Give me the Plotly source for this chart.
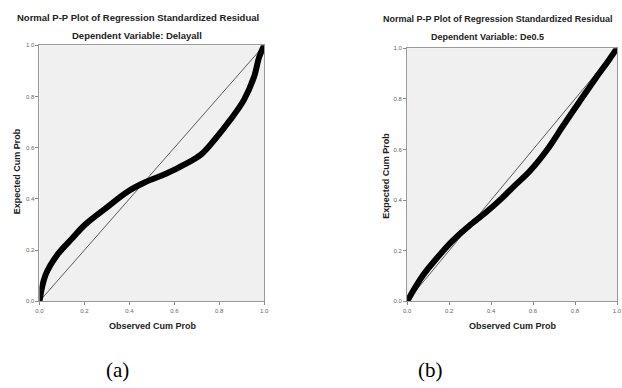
import plotly.graph_objects as go

# Panel (a): Dependent Variable: Delayall
obs_a = [0.0, 0.027, 0.078, 0.145, 0.20, 0.29, 0.395, 0.47, 0.56, 0.646, 0.72, 0.78, 0.85, 0.91, 0.955, 0.978, 1.0]
exp_a = [0.0, 0.103, 0.18, 0.245, 0.297, 0.36, 0.43, 0.465, 0.497, 0.535, 0.574, 0.632, 0.71, 0.787, 0.877, 0.955, 1.0]

# Panel (b): Dependent Variable: De0.5
obs_b = [0.0, 0.075, 0.138, 0.216, 0.294, 0.372, 0.451, 0.51, 0.585, 0.668, 0.74, 0.818, 0.897, 0.96, 1.0]
exp_b = [0.0, 0.102, 0.167, 0.239, 0.297, 0.349, 0.407, 0.455, 0.515, 0.600, 0.69, 0.785, 0.88, 0.952, 1.0]

diag = [0.0, 1.0]
tick_vals = [0.0, 0.2, 0.4, 0.6, 0.8, 1.0]
tick_text = ["0.0", "0.2", "0.4", "0.6", "0.8", "1.0"]

W, H = 622, 388
def px(x): return x / W
def py(y): return (H - y) / H

fig = go.Figure()

for obs, exp, xa, ya in [(obs_a, exp_a, "x", "y"), (obs_b, exp_b, "x2", "y2")]:
    fig.add_trace(go.Scatter(x=diag, y=diag, mode="lines", xaxis=xa, yaxis=ya,
                             line=dict(color="#5a5a5a", width=1), showlegend=False, hoverinfo="skip"))
    fig.add_trace(go.Scatter(x=obs, y=exp, mode="lines", xaxis=xa, yaxis=ya,
                             line=dict(color="black", width=6, shape="spline", smoothing=1.0),
                             showlegend=False))

axis_common = dict(range=[0, 1], tickvals=tick_vals, ticktext=tick_text, ticks="outside",
                   ticklen=3, tickcolor="#888", tickfont=dict(size=6, color="#666", family="Liberation Sans, Arial"),
                   showgrid=False, zeroline=False, showline=True, linecolor="#999", linewidth=1,
                   mirror=True, fixedrange=True)

fig.update_layout(
    width=W, height=H, margin=dict(l=0, r=0, t=0, b=0),
    paper_bgcolor="white", plot_bgcolor="#f0f0f0",
    xaxis=dict(domain=[px(36), px(264)], anchor="y", **axis_common),
    yaxis=dict(domain=[py(303), py(43)], anchor="x", **axis_common),
    xaxis2=dict(domain=[px(409), 1.0], anchor="y2", **axis_common),
    yaxis2=dict(domain=[py(303), py(46)], anchor="x2", **axis_common),
)

def bold(size):
    return dict(family="Liberation Sans, Arial", size=size, color="#222")

ann = [
    (136, 15, "<b>Normal P-P Plot of Regression Standardized Residual</b>", 0, 9.5),
    (135, 33, "<b>Dependent Variable: Delayall</b>", 0, 9.5),
    (501, 16, "<b>Normal P-P Plot of Regression Standardized Residual</b>", 0, 9),
    (491, 35, "<b>Dependent Variable: De0.5</b>", 0, 9),
    (151, 328, "<b>Observed Cum Prob</b>", 0, 9),
    (516, 328, "<b>Observed Cum Prob</b>", 0, 9),
    (14, 171, "<b>Expected Cum Prob</b>", -90, 9),
    (388, 175, "<b>Expected Cum Prob</b>", -90, 9),
]
for x, y, t, a, s in ann:
    fig.add_annotation(x=px(x), y=py(y), xref="paper", yref="paper", text=t, showarrow=False,
                       textangle=a, font=bold(s), xanchor="center", yanchor="middle")

for x, t in [(115, "(a)"), (433, "(b)")]:
    fig.add_annotation(x=px(x), y=py(373), xref="paper", yref="paper", text=t, showarrow=False,
                       font=dict(family="Liberation Serif, Times New Roman", size=21, color="black"),
                       xanchor="center", yanchor="middle")

fig.write_html("out.html")
